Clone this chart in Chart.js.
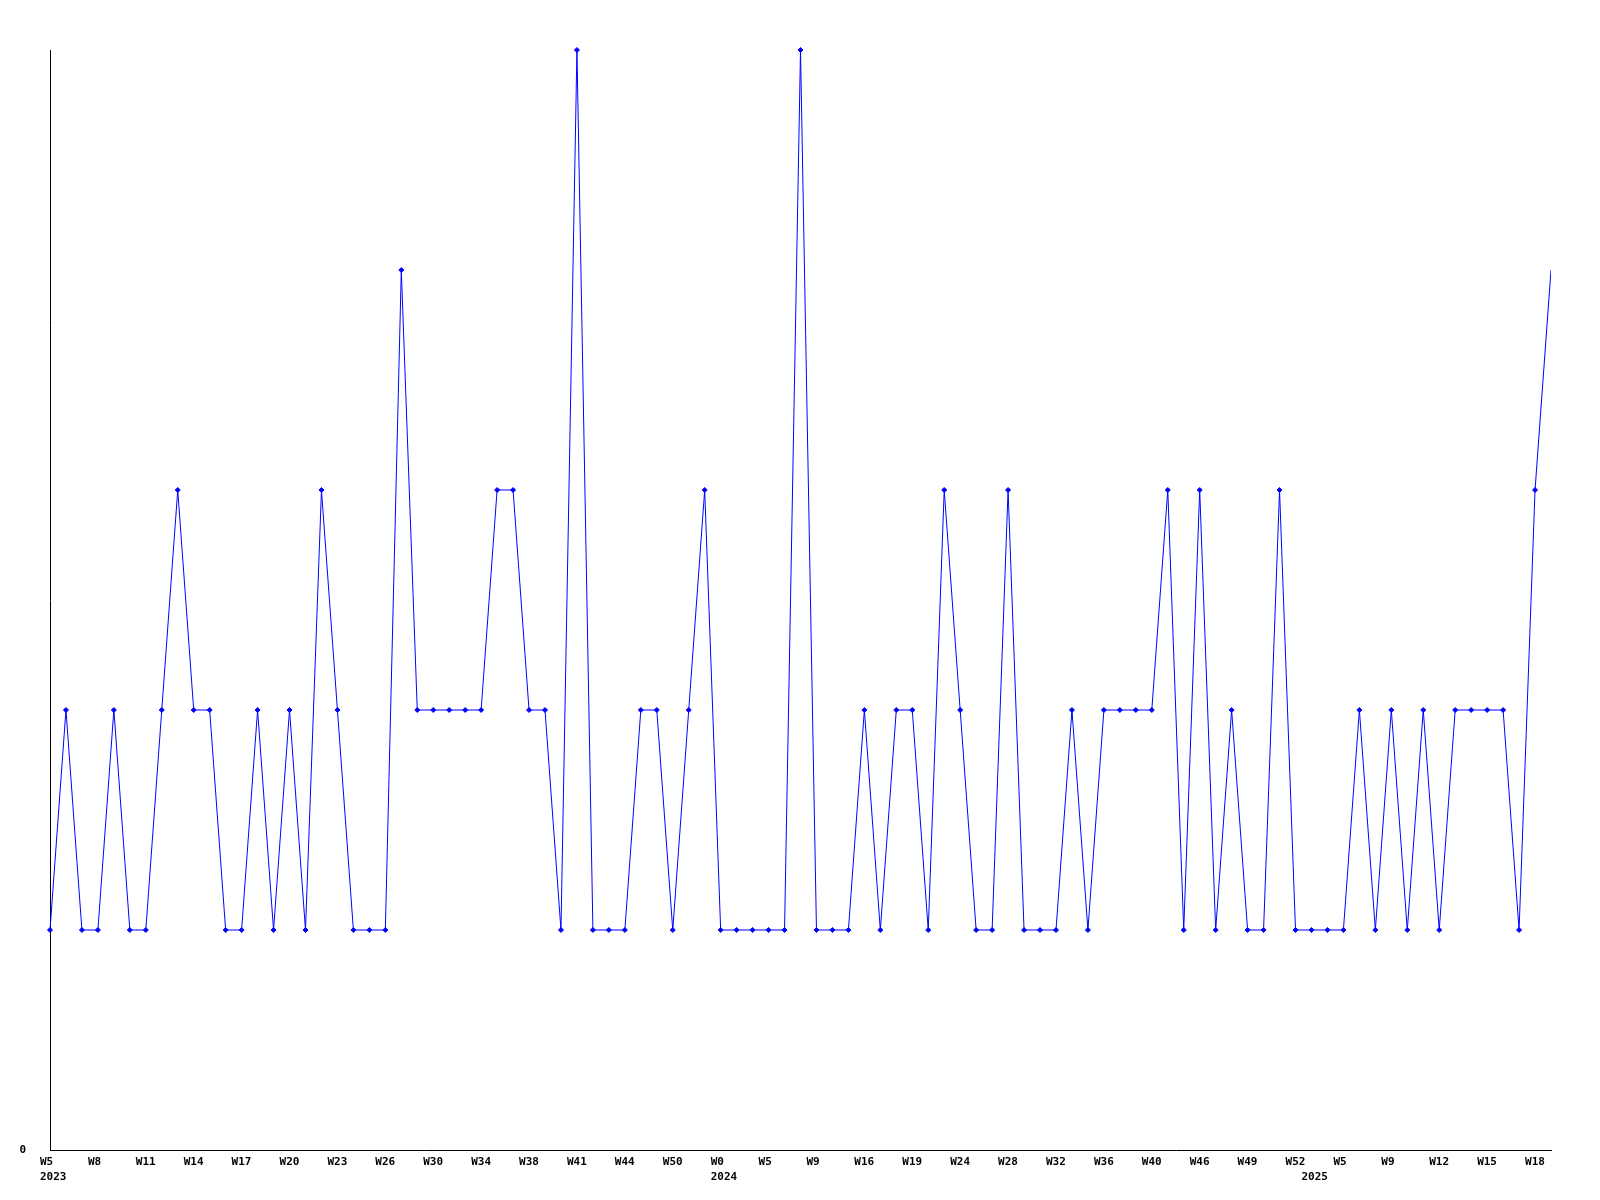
<!DOCTYPE html>
<html>
<head>
<meta charset="utf-8">
<script src="https://cdn.jsdelivr.net/npm/chart.js@4/dist/chart.umd.min.js"></script>
<style>
  body { margin: 0; background: #fff; }
  #wrap { width: 1600px; height: 1200px; position: relative; }
</style>
</head>
<body>
<div id="wrap"><canvas id="weekChart"></canvas></div>
<script>
// week labels shown under every third point
const weekLabels = ['W5', 'W8', 'W11', 'W14', 'W17', 'W20', 'W23', 'W26', 'W30', 'W34', 'W38',
    'W41', 'W44', 'W50', 'W0', 'W5', 'W9', 'W16', 'W19', 'W24', 'W28', 'W32',
    'W36', 'W40', 'W46', 'W49', 'W52', 'W5', 'W9', 'W12', 'W15', 'W18'];
// year labels and the point they sit under
const years = ['2023', '2024', '2025'];
const yearIndex = [0, 42, 79];

// weekly values
const values = [
    1, 2, 1, 1, 2, 1, 1, 2, 3, 2,
    2, 1, 1, 2, 1, 2, 1, 3, 2, 1,
    1, 1, 4, 2, 2, 2, 2, 2, 3, 3,
    2, 2, 1, 5, 1, 1, 1, 2, 2, 1,
    2, 3, 1, 1, 1, 1, 1, 5, 1, 1,
    1, 2, 1, 2, 2, 1, 3, 2, 1, 1,
    3, 1, 1, 1, 2, 1, 2, 2, 2, 2,
    3, 1, 3, 1, 2, 1, 1, 3, 1, 1,
    1, 1, 2, 1, 2, 1, 2, 1, 2, 2,
    2, 2, 1, 3, 4
];

const categories = values.map((v, i) => (i % 3 === 0 ? weekLabels[i / 3] : ''));
const lastIdx = values.length - 1;

const tickFont = { family: '"DejaVu Sans Mono", monospace', size: 11, weight: 'bold', lineHeight: 1.36 };

const ctx = document.getElementById('weekChart').getContext('2d');
new Chart(ctx, {
    type: 'line',
    data: {
        labels: categories,
        datasets: [{
            data: values,
            borderColor: '#0000FF',
            backgroundColor: '#0000FF',
            borderWidth: 1,
            tension: 0,
            pointStyle: 'rectRot',
            pointRadius: (c) => (c.dataIndex === lastIdx ? 0 : 2.5),
            pointBorderWidth: 1,
            clip: { left: 5, top: 5, right: 0, bottom: 5 }
        }]
    },
    options: {
        responsive: true,
        maintainAspectRatio: false,
        animation: false,
        layout: { padding: { top: 50, right: 49, left: 0, bottom: 0 } },
        plugins: { legend: { display: false }, tooltip: { enabled: false } },
        scales: {
            x: {
                offset: false,
                grid: { display: false, drawTicks: false },
                border: { display: true, color: '#000', width: 1 },
                afterFit: (s) => { s.height = 50; },
                ticks: {
                    autoSkip: false,
                    maxRotation: 0,
                    minRotation: 0,
                    align: 'start',
                    labelOffset: -10,
                    padding: 5,
                    color: '#000',
                    font: tickFont,
                    callback: function (val, i) {
                        const y = yearIndex.indexOf(i);
                        const w = categories[i];
                        if (y >= 0) return [w, years[y]];
                        return w;
                    }
                }
            },
            y: {
                min: 0,
                max: 5,
                grid: { display: false, drawTicks: false },
                border: { display: true, color: '#000', width: 1 },
                afterFit: (s) => { s.width = 50; },
                ticks: {
                    stepSize: 1,
                    padding: 24,
                    color: '#000',
                    font: tickFont,
                    callback: (v) => (v === 0 ? '0' : '')
                }
            }
        }
    }
});
</script>
</body>
</html>
